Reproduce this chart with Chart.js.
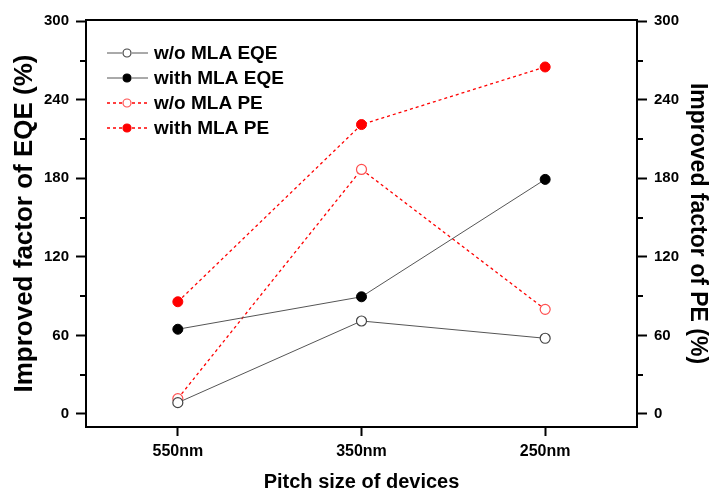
<!DOCTYPE html>
<html>
<head>
<meta charset="utf-8">
<script src="https://cdn.jsdelivr.net/npm/chart.js@4/dist/chart.umd.min.js"></script>
<style>
  html, body { margin: 0; padding: 0; background: #fff; }
  #wrap { width: 715px; height: 492px; }
</style>
</head>
<body>
<div id="wrap"><canvas id="c" width="715" height="492"></canvas></div>
<script>
const categories = ['550nm', '350nm', '250nm'];
const woMlaEqe = [8.6, 71.0, 57.8];
const withMlaEqe = [64.7, 89.5, 179.2];
const woMlaPe = [11.7, 186.8, 79.9];
const withMlaPe = [85.7, 221.1, 265.1];
const yTicks = [0, 60, 120, 180, 240, 300];
const yMinorTicks = [30, 90, 150, 210, 270];
const seriesLabels = ['w/o MLA EQE', 'with MLA EQE', 'w/o MLA PE', 'with MLA PE'];

const FONT = "'Liberation Sans', Arial, sans-serif";

const frameAndMinor = {
  id: 'frameAndMinor',
  afterDraw(chart) {
    const ctx = chart.ctx;
    const a = chart.chartArea;
    ctx.save();
    ctx.strokeStyle = '#000';
    ctx.lineWidth = 2;
    ctx.strokeRect(a.left, a.top, a.right - a.left, a.bottom - a.top);
    const yl = chart.scales.y, yr = chart.scales.y1;
    ctx.beginPath();
    yMinorTicks.forEach(v => {
      const py = Math.round(yl.getPixelForValue(v));
      ctx.moveTo(a.left, py); ctx.lineTo(a.left - 6, py);
      const pr = Math.round(yr.getPixelForValue(v));
      ctx.moveTo(a.right, pr); ctx.lineTo(a.right + 6, pr);
    });
    ctx.stroke();
    ctx.restore();
  }
};

const insideLegend = {
  id: 'insideLegend',
  afterDraw(chart) {
    const ctx = chart.ctx;
    const rows = [53, 78, 103, 128];
    const x0 = 107, x1 = 148, xm = 127, xt = 154;
    ctx.save();
    chart.data.datasets.forEach((ds, i) => {
      const y = rows[i];
      ctx.strokeStyle = ds.borderColor;
      ctx.lineWidth = ds.borderWidth;
      ctx.setLineDash(ds.borderDash || []);
      ctx.beginPath();
      ctx.moveTo(x0, y); ctx.lineTo(xm - 5, y);
      ctx.moveTo(xm + 5, y); ctx.lineTo(x1, y);
      ctx.stroke();
      ctx.setLineDash([]);
      ctx.beginPath();
      ctx.arc(xm, y, 4, 0, Math.PI * 2);
      ctx.fillStyle = ds.pointBackgroundColor;
      ctx.fill();
      ctx.strokeStyle = ds.pointBorderColor;
      ctx.lineWidth = 1.2;
      ctx.stroke();
      ctx.fillStyle = '#000';
      ctx.font = 'bold 19px ' + FONT;
      ctx.textBaseline = 'middle';
      ctx.textAlign = 'left';
      ctx.fillText(ds.label, xt, y + 1);
    });
    ctx.restore();
  }
};

const tickFont = { family: FONT, size: 15, weight: 'bold' };

new Chart(document.getElementById('c'), {
  type: 'line',
  data: {
    labels: categories,
    datasets: [
      { label: seriesLabels[0], data: woMlaEqe, yAxisID: 'y',
        borderColor: '#555', borderWidth: 1, pointRadius: 5, pointHoverRadius: 5,
        pointBackgroundColor: '#fff', pointBorderColor: '#444', pointBorderWidth: 1.2 },
      { label: seriesLabels[1], data: withMlaEqe, yAxisID: 'y',
        borderColor: '#555', borderWidth: 1, pointRadius: 5, pointHoverRadius: 5,
        pointBackgroundColor: '#000', pointBorderColor: '#000', pointBorderWidth: 1 },
      { label: seriesLabels[2], data: woMlaPe, yAxisID: 'y1',
        borderColor: '#f00', borderWidth: 1.3, borderDash: [3, 3], pointRadius: 5, pointHoverRadius: 5,
        pointBackgroundColor: '#fff', pointBorderColor: '#ff5050', pointBorderWidth: 1.2 },
      { label: seriesLabels[3], data: withMlaPe, yAxisID: 'y1',
        borderColor: '#f00', borderWidth: 1.3, borderDash: [3, 3], pointRadius: 5, pointHoverRadius: 5,
        pointBackgroundColor: '#f00', pointBorderColor: '#f00', pointBorderWidth: 1 }
    ]
  },
  options: {
    responsive: false,
    animation: false,
    events: [],
    layout: { padding: { top: 20, left: 0, right: 0, bottom: 0 } },
    plugins: { legend: { display: false }, tooltip: { enabled: false } },
    scales: {
      x: {
        type: 'category',
        offset: true,
        grid: { display: true, drawOnChartArea: false, offset: false, tickLength: 9, tickWidth: 2, tickColor: '#000' },
        border: { display: false },
        ticks: { color: '#000', font: { family: FONT, size: 16, weight: 'bold' }, padding: 6, maxRotation: 0 },
        title: { display: true, text: 'Pitch size of devices', color: '#000',
                 font: { family: FONT, size: 20, weight: 'bold', lineHeight: 1 }, padding: { top: 0, bottom: 0 } },
        afterFit(s) { s.height = 65; }
      },
      y: {
        position: 'left',
        min: -10, max: 301,
        afterBuildTicks(s) { s.ticks = yTicks.map(v => ({ value: v })); },
        grid: { display: true, drawOnChartArea: false, tickLength: 10, tickWidth: 2, tickColor: '#000' },
        border: { display: false },
        ticks: { color: '#000', font: tickFont, padding: 7 },
        title: { display: true, text: 'Improved factor of EQE (%)', color: '#000',
                 font: { family: FONT, size: 26, weight: 'bold', lineHeight: 1 }, padding: { top: 12, bottom: 0 } },
        afterFit(s) { s.width = 86; }
      },
      y1: {
        position: 'right',
        min: -10, max: 301,
        afterBuildTicks(s) { s.ticks = yTicks.map(v => ({ value: v })); },
        grid: { display: true, drawOnChartArea: false, tickLength: 10, tickWidth: 2, tickColor: '#000' },
        border: { display: false },
        ticks: { color: '#000', font: tickFont, padding: 7 },
        title: { display: true, text: 'Improved factor of PE (%)', color: '#000',
                 font: { family: FONT, size: 23, weight: 'bold', lineHeight: 1 }, padding: { top: 6.5, bottom: 0 } },
        afterFit(s) { s.width = 78; }
      }
    }
  },
  plugins: [frameAndMinor, insideLegend]
});
</script>
</body>
</html>
